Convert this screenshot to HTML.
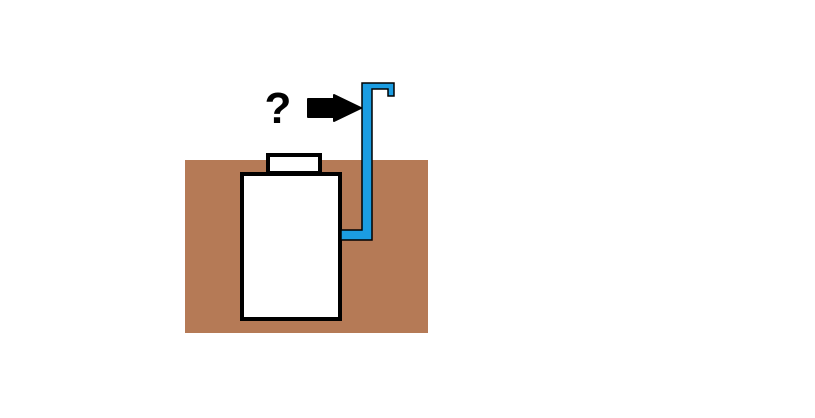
<!DOCTYPE html>
<html><head><style>body{margin:0;background:#fff;width:815px;height:418px;overflow:hidden;position:relative}</style></head>
<body>
<svg width="815" height="418" style="position:absolute;left:0;top:0">
<rect x="185" y="160" width="243" height="173" fill="#b57a56"/>
<rect x="242" y="174" width="98" height="145" fill="#fff" stroke="#000" stroke-width="4"/>
<rect x="268" y="155" width="52" height="18" fill="#fff" stroke="#000" stroke-width="4"/>
<path d="M341 230 H362 V83 H394 V96 H388 V89 H372 V240 H341 Z" fill="#1b9de2" stroke="#000" stroke-width="1.5"/>
<path d="M308 99 H334 V95 L361 108 L334 121 V117 H308 Z" fill="#000" stroke="#000" stroke-width="2" stroke-linejoin="round"/>
<text x="278" y="123" text-anchor="middle" font-family="Liberation Sans, sans-serif" font-weight="bold" font-size="44" fill="#000">?</text>
</svg>
</body></html>
